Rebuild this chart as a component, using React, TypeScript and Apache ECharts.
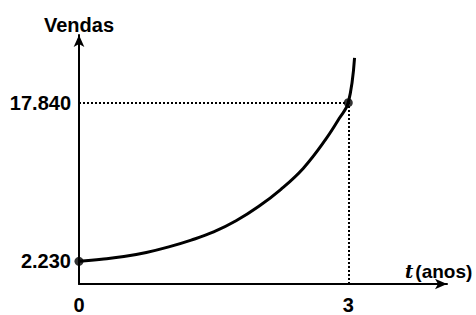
import { useEffect, useRef } from "react";
import * as echarts from "echarts";

// t (anos) and Vendas
const years = [0, 0.25, 0.5, 0.75, 1.0, 1.25, 1.5, 1.75, 2.0, 2.25, 2.5, 2.75, 2.9, 3.0, 3.07];
const sales = [2230, 2440, 2700, 3100, 3650, 4320, 5120, 6220, 7620, 9320, 11400, 14250, 16300, 17840, 22250];

const xTickValues = [0, 3];
const xTickLabels = ["0", "3"];
const yTickValues = [2230, 17840];
const yTickLabels = ["2.230", "17.840"];

const markedYears = [0, 3];
const markedSales = [2230, 17840];

export default function App() {
  const ref = useRef<HTMLDivElement>(null);
  useEffect(() => {
    const chart = echarts.init(ref.current!, null, { renderer: "svg" });
    const font = "'Liberation Sans', Arial, sans-serif";
    const curve = years.map((t, i) => [t, sales[i]]);
    const points = markedYears.map((t, i) => [t, markedSales[i]]);
    const [pt, pv] = points[1];
    chart.setOption({
      animation: false,
      grid: { left: 79, right: 29, top: 35, bottom: 25 },
      xAxis: {
        type: "value",
        min: 0,
        max: 4.1,
        axisLine: {
          lineStyle: { color: "#000", width: 2 },
          symbol: ["none", "arrow"],
          symbolSize: [8, 12],
        },
        axisTick: { show: false },
        splitLine: { show: false },
        axisLabel: {
          customValues: xTickValues,
          formatter: (v: number) => {
            const i = xTickValues.indexOf(v);
            return i >= 0 ? xTickLabels[i] : "";
          },
          margin: 11,
          color: "#000",
          fontSize: 20,
          fontWeight: "bold",
          fontFamily: font,
        },
        name: "{t|t}{a|(anos)}",
        nameLocation: "end",
        nameGap: -42,
        nameTextStyle: {
          align: "left",
          verticalAlign: "bottom",
          padding: [0, 0, 3, 0],
          rich: {
            t: {
              fontFamily: "'DejaVu Serif', serif",
              fontStyle: "italic",
              fontWeight: "bold",
              fontSize: 18,
              color: "#000",
              padding: [0, 2, 0, 0],
            },
            a: {
              fontFamily: font,
              fontWeight: "bold",
              fontSize: 19,
              color: "#000",
            },
          },
        },
      },
      yAxis: {
        type: "value",
        min: 0,
        max: 24500,
        axisLine: {
          lineStyle: { color: "#000", width: 2 },
          symbol: ["none", "arrow"],
          symbolSize: [8, 12],
        },
        axisTick: { show: false },
        splitLine: { show: false },
        axisLabel: {
          customValues: yTickValues,
          formatter: (v: number) => {
            const i = yTickValues.indexOf(v);
            return i >= 0 ? yTickLabels[i] : "";
          },
          margin: 8,
          color: "#000",
          fontSize: 20,
          fontWeight: "bold",
          fontFamily: font,
        },
        name: "Vendas",
        nameLocation: "end",
        nameGap: 0,
        nameTextStyle: {
          color: "#000",
          fontSize: 20,
          fontWeight: "bold",
          fontFamily: font,
          align: "center",
        },
      },
      series: [
        {
          type: "line",
          data: curve,
          smooth: 0.4,
          showSymbol: false,
          lineStyle: { color: "#000", width: 3 },
          markLine: {
            silent: true,
            symbol: "none",
            label: { show: false },
            lineStyle: { color: "#000", width: 2, type: [2, 2] },
            data: [
              [{ coord: [0, pv] }, { coord: [pt, pv] }],
              [{ coord: [pt, 0] }, { coord: [pt, pv] }],
            ],
          },
        },
        {
          type: "scatter",
          data: points,
          symbolSize: 9,
          itemStyle: { color: "#000" },
          z: 5,
        },
      ],
    });
    return () => chart.dispose();
  }, []);
  return <div ref={ref} style={{ width: 476, height: 315, position: "fixed", left: 0, top: 0, background: "#fff" }} />;
}
